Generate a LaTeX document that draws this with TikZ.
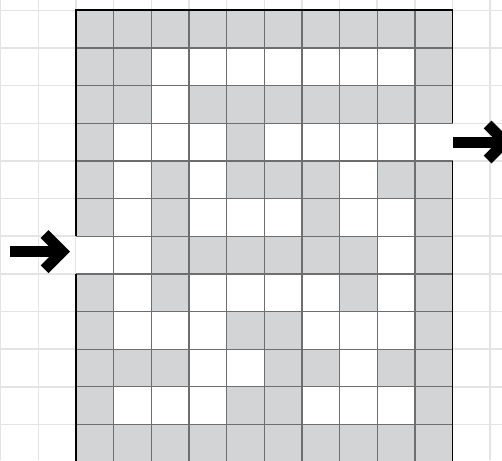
\documentclass[tikz,border=0pt]{standalone}
\definecolor{wall}{HTML}{D3D4D6}
\definecolor{cellline}{HTML}{6E6E6E}
\definecolor{bggrid}{HTML}{E4E4E4}
\tikzset{
  bgline/.style={draw=bggrid, line width=1.5pt},
  cellrule/.style={draw=cellline, line width=1.3pt},
  outerrule/.style={draw=black, line width=1.6pt},
  bigarrow/.style={draw=black, line width=11pt, line join=miter, line cap=butt},
}
\begin{document}
\begin{tikzpicture}[x=1pt,y=-1pt]
\useasboundingbox (0,0) rectangle (502,460);
\clip (0,0) rectangle (502,460);
\def\s{37.65}
\def\xo{76}
\def\yo{10.3}
% background grid
\foreach \k in {-2,...,12} \draw[bgline] ({\xo+\k*\s},0) -- ({\xo+\k*\s},460);
\foreach \k in {-1,...,12} \draw[bgline] (0,{\yo+\k*\s}) -- (502,{\yo+\k*\s});
% maze: white cells
\fill[white] (\xo,\yo) rectangle ({\xo+10*\s},{\yo+12*\s});
% wall cells
\foreach \r/\cs in {0/{0,1,2,3,4,5,6,7,8,9},1/{0,1,9},2/{0,1,3,4,5,6,7,8,9},3/{0,4},
  4/{0,2,4,5,6,8,9},5/{0,2,6,9},6/{2,3,4,5,6,7,9},7/{0,2,7,9},8/{0,4,5,9},
  9/{0,1,2,5,6,8,9},10/{0,4,5,9},11/{0,1,2,3,4,5,6,7,8,9}}{
  \foreach \c in \cs {
    \fill[wall] ({\xo+\c*\s},{\yo+\r*\s}) rectangle +(\s,\s);
  }
}
% cell lines
\foreach \k in {1,...,9} \draw[cellrule] ({\xo+\k*\s},\yo) -- ({\xo+\k*\s},{\yo+12*\s});
\foreach \k in {1,...,11} \draw[cellrule] (\xo,{\yo+\k*\s}) -- ({\xo+10*\s},{\yo+\k*\s});
% outer border with entrance and exit gaps
\draw[outerrule] (\xo,{\yo+6*\s}) -- (\xo,\yo) -- ({\xo+10*\s},\yo) -- ({\xo+10*\s},{\yo+3*\s});
\draw[outerrule] (\xo,{\yo+7*\s}) -- (\xo,{\yo+12*\s}) -- ({\xo+10*\s},{\yo+12*\s}) -- ({\xo+10*\s},{\yo+4*\s});
% arrows
\coordinate (inStart) at (10,251.7);
\coordinate (inTip) at (70,251.7);
\coordinate (outStart) at (453,142);
\coordinate (outTip) at (513,142);
\foreach \a/\b in {inStart/inTip, outStart/outTip}{
  \draw[bigarrow] (\a) -- ([xshift=-7.8pt]\b);
  \draw[bigarrow] (\b) ++(-25.4,-17.6) -- ++(17.6,17.6) -- ++(-17.6,17.6);
}
\end{tikzpicture}
\end{document}
